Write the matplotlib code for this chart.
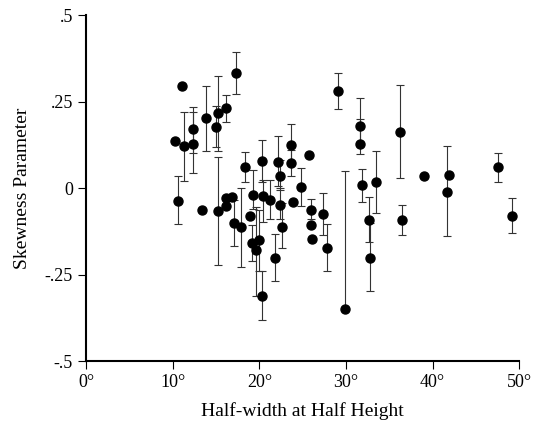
import numpy as np
import matplotlib
matplotlib.use("Agg")
import matplotlib.pyplot as plt

# half-width (deg), skewness, lower / upper end of error bar (nan = no bar)
half_width = [10.3, 11.1, 11.3, 12.3, 12.3, 13.9, 15.0, 15.2, 16.1, 17.3,
              18.4, 20.3, 22.1, 22.4, 23.7, 23.7, 25.7, 24.8, 10.6, 13.4,
              15.2, 16.1, 16.2, 16.9, 17.1, 17.9, 18.9, 19.3, 19.15, 19.6,
              19.95, 20.3, 20.4, 21.2, 21.8, 22.4, 22.6, 23.9, 26.0, 26.0,
              26.1, 27.4, 27.8, 29.1, 29.9, 31.6, 31.6, 31.8, 33.5, 32.6,
              32.8, 36.2, 36.5, 39.0, 41.9, 41.6, 47.5, 49.1]
skewness = [0.137, 0.294, 0.120, 0.170, 0.127, 0.201, 0.177, 0.216, 0.231, 0.333,
            0.061, 0.078, 0.076, 0.036, 0.125, 0.072, 0.096, 0.002, -0.037, -0.065,
            -0.066, -0.028, -0.051, -0.026, -0.100, -0.114, -0.081, -0.019, -0.159, -0.179,
            -0.150, -0.311, -0.022, -0.034, -0.201, -0.050, -0.112, -0.039, -0.064, -0.106,
            -0.147, -0.076, -0.173, 0.281, -0.349, 0.179, 0.126, 0.009, 0.018, -0.092,
            -0.201, 0.162, -0.093, 0.036, 0.038, -0.011, 0.060, -0.080]
err_lo = [np.nan, np.nan, 0.019, 0.100, 0.042, 0.106, 0.119, 0.106, 0.192, 0.272,
          0.017, 0.018, 0.007, -0.005, 0.070, 0.036, np.nan, -0.051, -0.104, np.nan,
          -0.222, np.nan, np.nan, np.nan, -0.167, -0.228, np.nan, -0.060, -0.212, -0.313,
          -0.241, -0.381, -0.099, -0.090, -0.268, -0.090, -0.173, np.nan, -0.090, np.nan,
          np.nan, -0.137, -0.240, 0.229, -0.349, 0.130, 0.099, -0.039, -0.072, -0.156,
          -0.297, 0.029, -0.135, np.nan, np.nan, -0.140, 0.017, -0.130]
err_hi = [np.nan, np.nan, 0.219, 0.233, 0.220, 0.294, 0.236, 0.325, 0.269, 0.393,
          0.103, 0.139, 0.149, 0.080, 0.185, 0.110, np.nan, 0.058, 0.036, np.nan,
          0.090, np.nan, np.nan, np.nan, -0.034, 0.000, np.nan, 0.052, -0.106, -0.055,
          -0.063, -0.241, 0.024, 0.024, -0.133, 0.000, -0.043, np.nan, -0.032, np.nan,
          np.nan, -0.013, -0.104, 0.331, 0.048, 0.259, 0.199, 0.055, 0.108, -0.026,
          -0.101, 0.297, -0.049, np.nan, np.nan, 0.120, 0.101, -0.030]

x_ticks = [0, 10, 20, 30, 40, 50]
x_labels = ["0°", "10°", "20°", "30°", "40°", "50°"]
y_ticks = [-0.5, -0.25, 0, 0.25, 0.5]
y_labels = ["-.5", "-.25", "0", ".25", ".5"]

plt.rcParams["font.family"] = ["Liberation Serif", "DejaVu Serif"]

x = np.array(half_width)
y = np.array(skewness)
lo = np.array(err_lo)
hi = np.array(err_hi)
has_err = ~np.isnan(lo)

fig = plt.figure(figsize=(5.39, 4.34), dpi=100)
ax = fig.add_axes([0.1596, 0.1682, 0.8039, 0.7972])

ax.errorbar(x[has_err], y[has_err],
            yerr=[y[has_err] - lo[has_err], hi[has_err] - y[has_err]],
            fmt="none", ecolor="#333333", elinewidth=0.8, capsize=2.8, capthick=0.8)
ax.plot(x, y, "o", color="black", markersize=6.5, zorder=3)

ax.set_xlim(0, 50)
ax.set_ylim(-0.5, 0.5)
ax.set_xticks(x_ticks)
ax.set_xticklabels(x_labels)
ax.set_yticks(y_ticks)
ax.set_yticklabels(y_labels)
ax.spines["top"].set_visible(False)
ax.spines["right"].set_visible(False)
ax.spines["left"].set_linewidth(1.5)
ax.spines["bottom"].set_linewidth(1.5)
ax.tick_params(direction="out", length=6, width=0.8, labelsize=13)
ax.set_xlabel("Half-width at Half Height", fontsize=14, labelpad=8)
ax.set_ylabel("Skewness Parameter", fontsize=14, labelpad=10)

fig.savefig("out.png", dpi=100)
